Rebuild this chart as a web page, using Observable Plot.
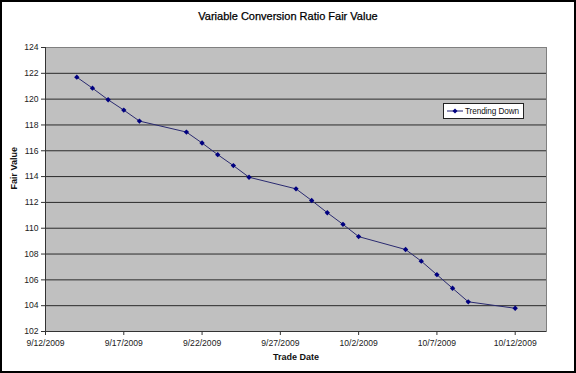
<!DOCTYPE html>
<html>
<head>
<meta charset="utf-8">
<script src="https://cdn.jsdelivr.net/npm/d3@7"></script>
<script src="https://cdn.jsdelivr.net/npm/@observablehq/plot@0.6"></script>
<style>
  html, body { margin: 0; padding: 0; background: #fff; }
  #wrap { position: relative; width: 576px; height: 373px; overflow: hidden; font-family: "Liberation Sans", Arial, sans-serif; }
  #frame { position: absolute; left: 0; top: 0; width: 576px; height: 373px; box-sizing: border-box; border: 2px solid #000; pointer-events: none; }
  #title { position: absolute; left: 0; width: 576px; top: 10px; text-align: center; font-size: 11px; font-weight: normal; color: #000; -webkit-text-stroke: 0.25px #000; }
  #legend { position: absolute; left: 443px; top: 103px; width: 81px; height: 16px; box-sizing: border-box; background: #fff; border: 1px solid #222; font-size: 8.2px; color: #111; }
  #legend svg { position: absolute; left: 2px; top: 3px; }
  #legend span { position: absolute; left: 21px; top: 2.5px; white-space: nowrap; letter-spacing: -0.1px; }
  #chart { position: absolute; left: 0; top: 0; }
</style>
</head>
<body>
<div id="wrap">
  <div id="chart"></div>
  <div id="title">Variable Conversion Ratio Fair Value</div>
  <div id="legend"><svg width="18" height="8"><line x1="1" y1="4" x2="17" y2="4" stroke="#1a1a70" stroke-width="1"/><path d="M9,1.5L11.5,4L9,6.5L6.5,4Z" fill="#000080"/></svg><span>Trending Down</span></div>
  <div id="frame"></div>
</div>
<script>
const tradeDates = ["2009-09-14","2009-09-15","2009-09-16","2009-09-17","2009-09-18",
  "2009-09-21","2009-09-22","2009-09-23","2009-09-24","2009-09-25",
  "2009-09-28","2009-09-29","2009-09-30","2009-10-01","2009-10-02",
  "2009-10-05","2009-10-06","2009-10-07","2009-10-08","2009-10-09",
  "2009-10-12"];
const fairValues = [121.7, 120.85, 119.95, 119.15, 118.3,
  117.45, 116.6, 115.7, 114.85, 113.95,
  113.05, 112.15, 111.2, 110.3, 109.35,
  108.35, 107.45, 106.4, 105.35, 104.3,
  103.8];
const xTicks = ["2009-09-12","2009-09-17","2009-09-22","2009-09-27","2009-10-02","2009-10-07","2009-10-12"];
const xDomain = ["2009-09-12","2009-10-14"];
const yTicks = [102,104,106,108,110,112,114,116,118,120,122,124];
const seriesName = "Trending Down";

const parse = s => new Date(s + "T00:00:00Z");
const data = tradeDates.map((d, i) => ({date: parse(d), value: fairValues[i], series: seriesName}));
const fmt = d => `${d.getUTCMonth() + 1}/${d.getUTCDate()}/${d.getUTCFullYear()}`;
const gridTicks = yTicks.slice(1, -1);

const chart = Plot.plot({
  width: 576,
  height: 373,
  marginLeft: 45,
  marginRight: 30,
  marginTop: 47,
  marginBottom: 42,
  style: {fontFamily: "'Liberation Sans', Arial, sans-serif", fontSize: "8.6px", color: "#222", background: "transparent"},
  x: {type: "utc", domain: xDomain.map(parse)},
  y: {domain: [102, 124]},
  marks: [
    Plot.frame({fill: "#C0C0C0", stroke: "#808080"}),
    Plot.ruleY(gridTicks, {stroke: "#2a2a2a", strokeWidth: 1}),
    Plot.ruleX([parse(xDomain[0])], {stroke: "#333"}),
    Plot.ruleY([102], {stroke: "#333"}),
    Plot.axisY({ticks: yTicks, tickSize: 4, tickPadding: 3, label: null, stroke: "#333"}),
    Plot.axisX({ticks: xTicks.map(parse), tickFormat: fmt, tickSize: 4, tickPadding: 4, label: null, stroke: "#333"}),
    Plot.text(["Trade Date"], {frameAnchor: "bottom", dy: 28, fontWeight: "bold", fontSize: 9, fill: "#111"}),
    Plot.text(["Fair Value"], {frameAnchor: "left", dx: -31, rotate: -90, fontWeight: "bold", fontSize: 9, fill: "#111"}),
    Plot.line(data, {x: "date", y: "value", stroke: "#2a2a70", strokeWidth: 1}),
    Plot.dot(data, {x: "date", y: "value", symbol: "diamond2", r: 2.4, fill: "#000080", stroke: "none"})
  ]
});
document.getElementById("chart").appendChild(chart);
</script>
</body>
</html>
